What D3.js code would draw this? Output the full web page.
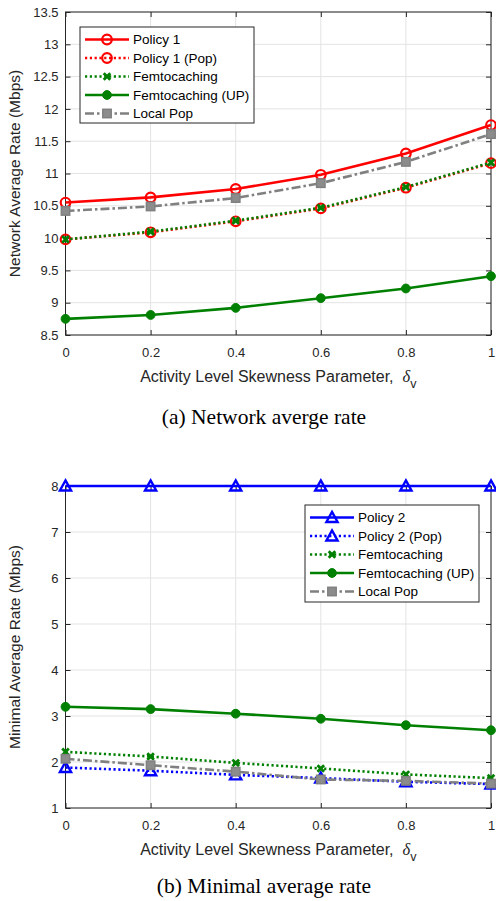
<!DOCTYPE html>
<html>
<head>
<meta charset="utf-8">
<script src="https://cdn.jsdelivr.net/npm/d3@7"></script>
<style>
  html, body { margin: 0; padding: 0; background: #fff; }
  svg { display: block; }
</style>
</head>
<body>
<svg id="fig" width="496" height="901"></svg>
<script>
// x values: activity level skewness parameter
const skewness = [0, 0.2, 0.4, 0.6, 0.8, 1];
const xTickValues = [0, 0.2, 0.4, 0.6, 0.8, 1];
const xTickLabels = ["0", "0.2", "0.4", "0.6", "0.8", "1"];

// (a) network average rate (Mbps)
const netPolicy1    = [10.55, 10.63, 10.76, 10.98, 11.31, 11.75];
const netPolicy1Pop = [9.98, 10.09, 10.26, 10.46, 10.78, 11.16];
const netFemto      = [9.98, 10.10, 10.27, 10.47, 10.79, 11.17];
const netFemtoUP    = [8.75, 8.81, 8.92, 9.07, 9.22, 9.41];
const netLocalPop   = [10.42, 10.49, 10.62, 10.85, 11.18, 11.61];
const netYTicks  = [8.5, 9, 9.5, 10, 10.5, 11, 11.5, 12, 12.5, 13, 13.5];
const netYLabels = ["8.5", "9", "9.5", "10", "10.5", "11", "11.5", "12", "12.5", "13", "13.5"];
const netNames = ["Policy 1", "Policy 1 (Pop)", "Femtocaching", "Femtocaching (UP)", "Local Pop"];

// (b) minimal average rate (Mbps)
const minPolicy2    = [8, 8, 8, 8, 8, 8];
const minPolicy2Pop = [1.88, 1.81, 1.72, 1.65, 1.57, 1.52];
const minFemto      = [2.22, 2.12, 1.98, 1.86, 1.73, 1.65];
const minFemtoUP    = [3.20, 3.15, 3.05, 2.94, 2.80, 2.69];
const minLocalPop   = [2.07, 1.93, 1.79, 1.62, 1.59, 1.53];
const minYTicks  = [1, 2, 3, 4, 5, 6, 7, 8];
const minYLabels = ["1", "2", "3", "4", "5", "6", "7", "8"];
const minNames = ["Policy 2", "Policy 2 (Pop)", "Femtocaching", "Femtocaching (UP)", "Local Pop"];

// line / marker styles
const RED = "#ff0000", GREEN = "#008000", GRAY = "#808080", BLUE = "#0000ff";
const DOT = "2.2,2.6", DASHDOT = "9,3,2.5,3";
const netStyles = [
  { color: RED,   dash: null,    marker: "circle" },
  { color: RED,   dash: DOT,     marker: "circle" },
  { color: GREEN, dash: DOT,     marker: "x" },
  { color: GREEN, dash: null,    marker: "dot" },
  { color: GRAY,  dash: DASHDOT, marker: "square" }
];
const minStyles = [
  { color: BLUE,  dash: null,    marker: "triangle" },
  { color: BLUE,  dash: DOT,     marker: "triangle" },
  { color: GREEN, dash: DOT,     marker: "x" },
  { color: GREEN, dash: null,    marker: "dot" },
  { color: GRAY,  dash: DASHDOT, marker: "square" }
];

const SANS = "'Liberation Sans', Arial, Helvetica, sans-serif";
const SERIF = "'Liberation Serif', 'Times New Roman', serif";
const INK = "#262626";

const svg = d3.select("#fig");
svg.append("rect").attr("width", 496).attr("height", 901).attr("fill", "#fff");

function drawMarker(g, kind, color, cx, cy) {
  if (kind === "circle") {
    g.append("circle").attr("cx", cx).attr("cy", cy).attr("r", 4.8)
      .attr("fill", "none").attr("stroke", color).attr("stroke-width", 2.2);
  } else if (kind === "dot") {
    g.append("circle").attr("cx", cx).attr("cy", cy).attr("r", 4.4)
      .attr("fill", color).attr("stroke", color).attr("stroke-width", 1);
  } else if (kind === "square") {
    g.append("rect").attr("x", cx - 4.2).attr("y", cy - 4.2).attr("width", 8.4).attr("height", 8.4)
      .attr("fill", "#8c8c8c").attr("stroke", color).attr("stroke-width", 1.5);
  } else if (kind === "triangle") {
    const s = 5.6;
    g.append("path")
      .attr("d", `M${cx},${cy - s}L${cx + s},${cy + s * 0.8}L${cx - s},${cy + s * 0.8}Z`)
      .attr("fill", "none").attr("stroke", color).attr("stroke-width", 2.4)
      .attr("stroke-linejoin", "miter");
  } else if (kind === "x") {
    const s = 3.3;
    g.append("path")
      .attr("d", `M${cx - s},${cy - s}L${cx + s},${cy + s}M${cx - s},${cy + s}L${cx + s},${cy - s}`)
      .attr("stroke", color).attr("stroke-width", 2.8).attr("fill", "none");
  }
}

function drawPanel(p) {
  const x = d3.scaleLinear().domain([0, 1]).range([p.left, p.right]);
  const y = d3.scaleLinear().domain(p.yDomain).range([p.bottom, p.top]);
  const W = p.right - p.left, H = p.bottom - p.top;
  const g = svg.append("g");

  // grid
  const grid = g.append("g").attr("stroke", "#e3e3e3").attr("stroke-width", 1);
  p.yTicks.forEach(v => grid.append("line").attr("x1", p.left).attr("x2", p.right)
    .attr("y1", y(v)).attr("y2", y(v)));
  xTickValues.forEach(v => grid.append("line").attr("x1", x(v)).attr("x2", x(v))
    .attr("y1", p.top).attr("y2", p.bottom));

  // axes with inward ticks on all four sides
  const axL = d3.axisLeft(y).tickValues(p.yTicks)
    .tickFormat((d, i) => p.yLabels[i]).tickSizeInner(-5).tickSizeOuter(0).tickPadding(7);
  const axR = d3.axisRight(y).tickValues(p.yTicks).tickFormat("").tickSizeInner(-5).tickSizeOuter(0);
  const axB = d3.axisBottom(x).tickValues(xTickValues)
    .tickFormat((d, i) => xTickLabels[i]).tickSizeInner(-5).tickSizeOuter(0).tickPadding(13);
  const axT = d3.axisTop(x).tickValues(xTickValues).tickFormat("").tickSizeInner(-5).tickSizeOuter(0);

  const styleAxis = sel => {
    sel.selectAll(".domain").remove();
    sel.selectAll("line").attr("stroke", INK);
    sel.selectAll("text").style("font-size", "13px").style("fill", INK)
      .style("font-family", SANS);
  };
  g.append("g").attr("transform", `translate(${p.left},0)`).call(axL).call(styleAxis);
  g.append("g").attr("transform", `translate(${p.right},0)`).call(axR).call(styleAxis);
  g.append("g").attr("transform", `translate(0,${p.bottom})`).call(axB).call(styleAxis);
  g.append("g").attr("transform", `translate(0,${p.top})`).call(axT).call(styleAxis);

  // axes box
  g.append("rect").attr("x", p.left).attr("y", p.top).attr("width", W).attr("height", H)
    .attr("fill", "none").attr("stroke", INK).attr("stroke-width", 1);

  // series
  const line = d3.line().x((d, i) => x(skewness[i])).y(d => y(d));
  p.series.forEach((vals, k) => {
    const st = p.styles[k];
    const sg = g.append("g");
    sg.append("path").attr("d", line(vals)).attr("fill", "none")
      .attr("stroke", st.color).attr("stroke-width", 2.6)
      .attr("stroke-dasharray", st.dash);
    vals.forEach((v, i) => drawMarker(sg, st.marker, st.color, x(skewness[i]), y(v)));
  });

  // y title
  g.append("text")
    .attr("transform", `translate(${p.yTitleX},${(p.top + p.bottom) / 2}) rotate(-90)`)
    .attr("text-anchor", "middle")
    .style("font-family", SANS).style("font-size", "15.5px").style("fill", INK)
    .text(p.yTitle);

  // x title with subscripted delta
  const xt = g.append("text").attr("x", (p.left + p.right) / 2).attr("y", p.bottom + 47)
    .attr("text-anchor", "middle")
    .style("font-family", SANS).style("font-size", "16px").style("fill", INK);
  xt.append("tspan").text("Activity Level Skewness Parameter,\u00a0\u00a0");
  xt.append("tspan").style("font-family", SERIF).style("font-style", "italic")
    .style("font-size", "16.5px").text("δ");
  xt.append("tspan").attr("dy", 6).style("font-size", "12.5px").text("v");

  // caption
  g.append("text").attr("x", p.captionX).attr("y", p.bottom + p.captionDy)
    .attr("text-anchor", "middle")
    .style("font-family", SERIF).style("font-size", "21.5px").style("fill", "#000")
    .text(p.caption);

  // legend
  const L = p.legend;
  const lg = g.append("g");
  lg.append("rect").attr("x", L.x).attr("y", L.y).attr("width", L.w).attr("height", L.h)
    .attr("fill", "#fff").attr("stroke", INK).attr("stroke-width", 1);
  p.names.forEach((name, k) => {
    const st = p.styles[k];
    const ly = L.y + 12.5 + k * 18.5;
    lg.append("line").attr("x1", L.x + 5).attr("x2", L.x + 49).attr("y1", ly).attr("y2", ly)
      .attr("stroke", st.color).attr("stroke-width", 2.6).attr("stroke-dasharray", st.dash);
    drawMarker(lg, st.marker, st.color, L.x + 27, ly);
    lg.append("text").attr("x", L.x + 53).attr("y", ly).attr("dy", "0.36em")
      .style("font-family", SANS).style("font-size", "13.5px").style("fill", "#000")
      .text(name);
  });
}

drawPanel({
  left: 65.5, right: 491, top: 12, bottom: 335,
  yDomain: [8.5, 13.5], yTicks: netYTicks, yLabels: netYLabels,
  series: [netPolicy1, netPolicy1Pop, netFemto, netFemtoUP, netLocalPop],
  styles: netStyles, names: netNames,
  yTitle: "Network Average Rate (Mbps)", yTitleX: 20,
  caption: "(a) Network averge rate", captionX: 264, captionDy: 89,
  legend: { x: 80, y: 27, w: 174, h: 96 }
});

drawPanel({
  left: 65.5, right: 491, top: 486, bottom: 808,
  yDomain: [1, 8], yTicks: minYTicks, yLabels: minYLabels,
  series: [minPolicy2, minPolicy2Pop, minFemto, minFemtoUP, minLocalPop],
  styles: minStyles, names: minNames,
  yTitle: "Minimal Average Rate (Mbps)", yTitleX: 20,
  caption: "(b) Minimal average rate", captionX: 264, captionDy: 85,
  legend: { x: 305, y: 505, w: 174, h: 97 }
});
</script>
</body>
</html>
